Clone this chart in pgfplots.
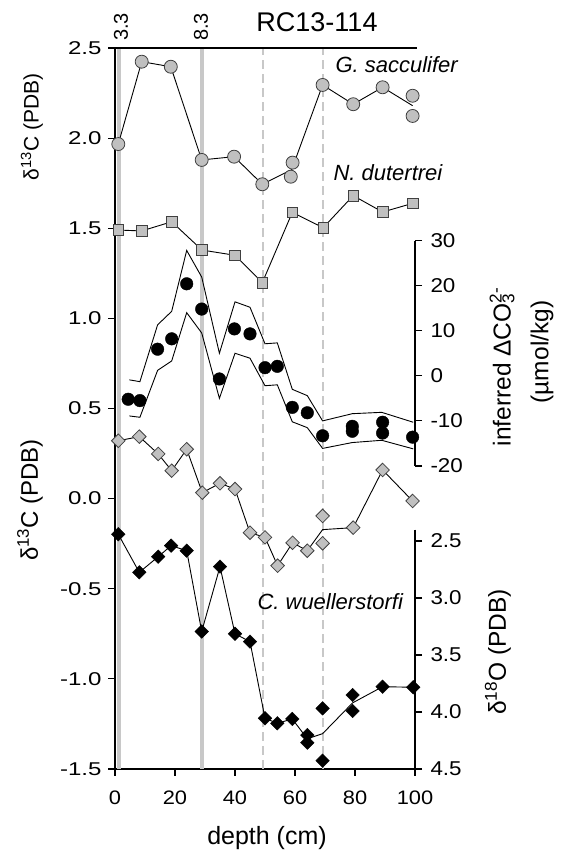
\documentclass[border=0pt]{standalone}
\usepackage{fontspec}
\setmainfont{Liberation Sans}
\newfontfamily\ltick{Liberation Sans}[FakeStretch=1.3]
\newfontfamily\rtick{Liberation Sans}[FakeStretch=1.12]
\usepackage{pgfplots}
\pgfplotsset{compat=1.18}
\definecolor{lgray}{RGB}{192,192,192}
\definecolor{vgray}{RGB}{200,200,200}
\pgfplotsset{
  common/.style={
    at={(115pt,84pt)}, anchor=south west, scale only axis,
    width=300pt, height=721pt, xmin=0, xmax=100, clip=false,
    tick align=outside, major tick length=7pt,
    tick style={line width=1.2pt, black},
    axis line style={line width=1.2pt},
    tick label style={font=\rtick\fontsize{19.5}{22}\selectfont},
    /pgf/number format/assume math mode=true,
  },
  dec1/.style={/pgf/number format/fixed, /pgf/number format/fixed zerofill, /pgf/number format/precision=1},
}
\begin{document}
\begin{tikzpicture}[x=1pt,y=1pt]
\useasboundingbox (0,0) rectangle (562,853);
% ---------------- main axis (delta 13C, left) ----------------
\begin{axis}[common,
  ymin=-1.5, ymax=2.5,
  axis x line*=bottom, axis y line*=left,
  xtick={0,20,40,60,80,100},
  ytick={-1.5,-1.0,-0.5,0,0.5,1.0,1.5,2.0,2.5},
  yticklabel style={dec1, font=\ltick\fontsize{18.5}{22}\selectfont, xshift=-3pt},
  xticklabel style={yshift=-11pt},
]
% reference lines
\addplot[vgray, line width=4pt] coordinates {(1.3,-1.5) (1.3,2.5)};
\addplot[vgray, line width=4pt] coordinates {(29,-1.5) (29,2.5)};
\addplot[vgray, line width=1.3pt, dash pattern=on 9pt off 5pt] coordinates {(49.3,-1.5) (49.3,2.5)};
\addplot[vgray, line width=1.3pt, dash pattern=on 9pt off 5pt] coordinates {(69.3,-1.5) (69.3,2.5)};
\draw[line width=1.2pt] (rel axis cs:0,1) -- (rel axis cs:1.006,1);
% G. sacculifer
\addplot[black, line width=0.9pt] coordinates {
 (1.1,1.967) (8.9,2.424) (18.6,2.396) (28.9,1.879) (39.7,1.897) (49.1,1.744)
 (58.9,1.825) (69.2,2.295) (79.4,2.188) (89.2,2.282) (99.2,2.18)};
\addplot[only marks, mark=*, mark size=6.5pt, mark options={fill=lgray, draw=black!75, line width=0.8pt}] coordinates {
 (1.1,1.967) (8.9,2.424) (18.6,2.396) (28.9,1.879) (39.7,1.897) (49.1,1.744)
 (58.6,1.786) (59.2,1.864) (69.2,2.295) (79.4,2.188) (89.2,2.282) (99.2,2.235) (99.2,2.123)};
% N. dutertrei
\addplot[black, line width=0.9pt, mark=square*, mark size=5.3pt, mark options={fill=lgray, draw=black!75, line width=0.8pt}] coordinates {
 (1.1,1.490) (8.9,1.485) (18.9,1.536) (29,1.379) (40,1.350) (49.1,1.198)
 (59.1,1.588) (69.4,1.503) (79.4,1.681) (89.2,1.590) (99.2,1.638)};
% C. wuellerstorfi delta 13C
\addplot[black, line width=0.9pt] coordinates {
 (1.1,0.321) (8.1,0.344) (14.4,0.248) (18.9,0.155) (23.9,0.274) (29.1,0.033)
 (35,0.085) (40,0.053) (45,-0.189) (50,-0.215) (54.2,-0.372) (59.2,-0.245)
 (64.1,-0.289) (69.2,-0.172) (79.4,-0.161) (89.2,0.159) (99.2,-0.013)};
\addplot[only marks, mark=square*, mark size=4.8pt, mark options={rotate=45, fill=lgray, draw=black!75, line width=0.8pt}] coordinates {
 (1.1,0.321) (8.1,0.344) (14.4,0.248) (18.9,0.155) (23.9,0.274) (29.1,0.033)
 (35,0.085) (40,0.053) (45,-0.189) (50,-0.215) (54.2,-0.372) (59.2,-0.245)
 (64.1,-0.289) (69.2,-0.096) (69.2,-0.248) (79.4,-0.161) (89.2,0.159) (99.2,-0.013)};
\end{axis}
% ---------------- Delta CO3 axis (right) ----------------
\begin{axis}[common,
  ymin=-87.19, ymax=72.69,
  hide x axis, axis y line*=right, y axis line style={draw=none},
  ytick={-20,-10,0,10,20,30},
  yticklabel style={font=\rtick\fontsize{20}{23}\selectfont, xshift=5pt},
]
\draw[line width=1.2pt] (axis cs:100,-20) -- (axis cs:100,30);
\addplot[black, line width=0.9pt] coordinates {
 (4.8,-0.9) (8.3,-1.3) (14.2,11.3) (18.9,14.3) (23.9,27.8) (28.9,21.9) (34.8,5.0)
 (40,16.4) (45,15.2) (50,7.1) (54.1,7.3) (59.1,-3.0) (64.1,-4.4) (69.2,-10.0)
 (79.1,-8.4) (88.9,-8.1) (99.4,-10.3)};
\addplot[black, line width=0.9pt] coordinates {
 (4.8,-8.9) (8.3,-9.2) (14.2,1.2) (18.9,3.3) (23.9,14.0) (28.9,9.5) (34.8,-5.0)
 (40,5.0) (45,3.9) (50,-2.2) (54.1,-2.0) (59.1,-10.2) (64.1,-11.5) (69.2,-16.1)
 (79.1,-14.8) (88.9,-14.3) (99.4,-16.2)};
\addplot[only marks, mark=*, mark size=6.3pt, mark options={fill=black, draw=black}] coordinates {
 (4.4,-5.2) (8.3,-5.5) (14.2,5.9) (18.9,8.2) (23.9,20.4) (28.9,14.8) (34.8,-0.7)
 (39.8,10.4) (45,9.3) (50,1.8) (54.1,2.1) (59.1,-7.0) (64.1,-8.2) (69.2,-13.3)
 (79.1,-11.2) (79.1,-12.3) (89.2,-10.3) (89.2,-12.7) (99.2,-13.6)};
\end{axis}
% ---------------- delta 18O axis (right, reversed) ----------------
\begin{axis}[common,
  ymin=-1.824, ymax=4.5, y dir=reverse,
  hide x axis, axis y line*=right, y axis line style={draw=none},
  ytick={2.5,3.0,3.5,4.0,4.5},
  yticklabel style={dec1, font=\rtick\fontsize{20}{23}\selectfont, xshift=5pt},
]
\draw[line width=1.2pt] (axis cs:100,2.4) -- (axis cs:100,4.5);
\addplot[black, line width=0.9pt] coordinates {
 (1.1,2.441) (8.1,2.775) (14.4,2.638) (18.7,2.541) (23.9,2.585) (28.9,3.294)
 (35,2.725) (40,3.314) (45,3.383) (50,4.055) (54.1,4.099) (59.1,4.061)
 (64.1,4.235) (69.2,4.19) (79.2,3.92) (89.2,3.778) (99.4,3.783)};
\addplot[only marks, mark=square*, mark size=4.8pt, mark options={rotate=45, fill=black, draw=black}] coordinates {
 (1.1,2.441) (8.1,2.775) (14.4,2.638) (18.7,2.541) (23.9,2.585) (28.9,3.294)
 (35,2.725) (40,3.314) (45,3.383) (50,4.055) (54.1,4.099) (59.1,4.061)
 (64.1,4.202) (64.1,4.269) (69.2,3.968) (69.2,4.427) (79.2,3.851) (79.2,3.991)
 (89.2,3.778) (99.4,3.783)};
\end{axis}
% ---------------- texts ----------------
\node[font=\fontsize{27}{31}\selectfont] at (317,831) {RC13-114};
\node[rotate=90, font=\fontsize{20}{24}\selectfont] at (121,826) {3.3};
\node[rotate=90, font=\fontsize{20}{24}\selectfont] at (201,826) {8.3};
\node[anchor=west, font=\fontsize{22}{26}\selectfont\itshape] at (332,788) {G. sacculifer};
\node[anchor=west, font=\fontsize{22}{26}\selectfont\itshape] at (330,680) {N. dutertrei};
\node[anchor=west, font=\fontsize{22}{26}\selectfont\itshape] at (254,251) {C. wuellerstorfi};
\node[rotate=90, font=\fontsize{21}{25}\selectfont] at (32,726) {δ\textsuperscript{13}C (PDB)};
\node[rotate=90, font=\fontsize{24}{28}\selectfont] at (30,353) {δ\textsuperscript{13}C (PDB)};
\node[rotate=90, font=\fontsize{24.5}{28}\selectfont] at (502,491) {inferred ΔCO\rlap{\textsuperscript{2-}}\textsubscript{3}\phantom{\textsuperscript{2-}}};
\node[rotate=90, font=\fontsize{24.5}{28}\selectfont] at (542,501) {(µmol/kg)};
\node[rotate=90, font=\fontsize{24.5}{28}\selectfont] at (498,201) {δ\textsuperscript{18}O (PDB)};
\node[font=\fontsize{25}{29}\selectfont] at (267,15) {depth (cm)};
\end{tikzpicture}
\end{document}
